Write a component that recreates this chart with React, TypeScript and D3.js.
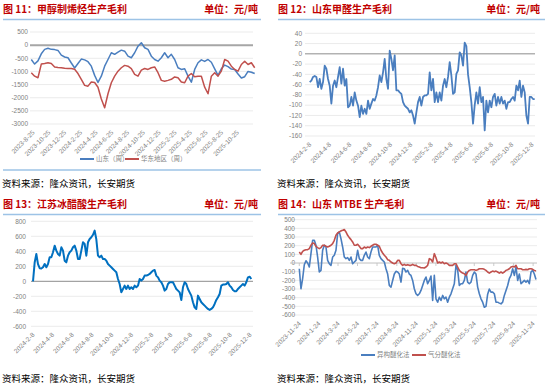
import React from 'react'
import * as d3 from 'd3'

// 图11 甲醇制烯烃生产毛利（周）
const mtoShandong = [-545, -720, -600, -330, -160, -120, -160, -170, -200, -380, -450, -480, -680, -870, -700, -530, -560, -630, -800, -1150, -1420, -1180, -800, -545, -290, -350, -265, -190, -230, -420, -480, -290, -40, 90, -100, -160, -420, -545, -610, -480, -290, -480, -350, -545, -860, -925, -900, -1180, -1410, -925, -670, -560, -620, -545, -650, -900, -1150, -900, -760, -820, -910, -925, -1100, -1250, -1200, -1000, -1030, -1080]
const mtoEastChina = [-1050, -1180, -1240, -720, -700, -670, -700, -830, -850, -860, -880, -890, -890, -920, -1080, -1300, -1530, -1560, -1400, -1420, -1600, -2050, -2380, -1850, -1430, -1180, -990, -860, -770, -800, -890, -1110, -1180, -950, -890, -925, -860, -830, -1050, -1340, -1370, -1340, -1300, -1210, -1240, -1400, -1430, -1180, -1080, -1200, -1180, -1180, -1600, -1850, -1180, -1050, -1180, -990, -545, -610, -800, -925, -990, -735, -610, -735, -670, -860]
const p1Ticks = ['2023-8-25', '2023-10-25', '2023-12-25', '2024-2-25', '2024-4-25', '2024-6-25', '2024-8-25', '2024-10-25', '2024-12-25', '2025-2-25', '2025-4-25', '2025-6-25', '2025-8-25', '2025-10-25']

// 图12 山东甲醛生产毛利
const formaldehyde = [-55, -52, -45, -43, -45, -65, -49, -68, -55, -23, -29, -49, -62, -97, -62, -52, -65, -45, -26, -58, -29, -62, -49, -104, -101, -84, -101, -75, -91, -101, -123, -101, -117, -107, -117, -91, -107, -97, -88, -91, -81, -65, -42, -55, -36, -10, -49, -68, 6, -10, -32, -3, -71, -71, -75, -78, -94, -101, -104, -107, -114, -110, -120, -136, -114, -94, -84, -101, -84, -81, -81, -78, -36, -71, -49, -94, -75, -94, -75, -91, -62, -49, -65, -45, -16, -42, -78, -75, -39, -32, 3, -3, -23, 22, 15, -40, -65, -94, -136, -100, -75, -97, -65, -94, -84, -149, -91, -114, -91, -104, -84, -78, -101, -84, -97, -84, -97, -91, -107, -94, -94, -88, -84, -91, -62, -71, -52, -84, -62, -75, -120, -136, -84, -84, -88, -88]
const p2Ticks = ['2024-2-8', '2024-4-8', '2024-6-8', '2024-8-8', '2024-10-8', '2024-12-8', '2025-2-8', '2025-4-8', '2025-6-8', '2025-8-8', '2025-10-8', '2025-12-8']

// 图13 江苏冰醋酸生产毛利
const aceticAcid = [0, 250, 364, 230, 175, 170, 187, 231, 187, 231, 320, 320, 387, 475, 409, 364, 342, 453, 409, 275, 253, 342, 387, 409, 453, 475, 409, 298, 298, 409, 520, 498, 342, 520, 564, 587, 620, 676, 560, 342, 320, 342, 298, 298, 275, 231, 209, 187, 164, 142, 120, 31, -36, -147, -102, -58, -102, -58, -102, -80, -102, -58, -80, -58, 31, 9, 31, 76, 76, 84, 98, 120, 142, 151, 76, 53, 9, -13, -58, -124, -102, -36, -13, -13, -13, -58, -102, -124, -147, -250, -80, -13, -36, -102, -147, -191, -280, -347, -369, -191, -236, -280, -302, -324, -347, -369, -382, -369, -347, -302, -249, -213, -169, -58, -44, -44, -36, -13, -58, -80, -116, -133, -133, -102, -80, -58, -36, -58, -13, 53, 62, 31]
const p3Ticks = p2Ticks

// 图14 山东MTBE生产毛利
const mtbeIso = [-66, -297, -180, -20, 25, 0, -46, 108, 262, 262, 205, 69, -104, -85, 147, 205, 185, 31, -8, -27, 69, 89, 147, 340, 359, 282, 185, 69, 50, 62, 31, 69, -8, 12, 31, 147, 50, 31, 31, 89, 127, 69, 50, 127, 185, 185, 185, 205, 89, 50, 31, 12, -66, -127, -259, -278, -201, -127, -96, -104, -127, -220, -60, -66, -104, -85, -127, -143, -201, -297, -355, -374, -355, -317, -259, -201, -162, -239, -201, -150, -432, -143, -413, -452, -394, -432, -374, -413, -394, -452, -394, -355, -297, -239, -27, -80, -259, -239, -239, -201, -104, -220, -239, -220, -143, -104, -127, -278, -355, -413, -452, -510, -500, -360, -300, -336, -336, -355, -452, -452, -463, -471, -452, -374, -317, -259, -181, -143, -66, -143, -46, -201, -127, -239, -220, -201, -220, -201, -239, -104, -85, -127, -190]
const mtbeGas = [127, 100, 135, 147, 154, 154, 166, 205, 232, 224, 193, 178, 166, 178, 205, 205, 193, 185, 193, 205, 224, 262, 320, 347, 359, 371, 378, 386, 359, 320, 293, 270, 243, 205, 205, 216, 193, 166, 166, 185, 174, 185, 178, 193, 205, 216, 216, 205, 193, 147, 116, 89, 69, 39, 31, 12, 0, -8, 0, 31, 31, -8, -27, -15, -27, -19, -27, -27, -15, -27, -27, -39, -46, -54, -54, -58, -46, -27, 50, 40, 12, 108, 60, 0, 12, 0, 12, -8, 0, -8, -27, -27, -27, -8, -8, -46, -85, -104, -116, -124, -143, -104, -85, -77, -77, -77, -85, -77, -66, -66, -66, -73, -85, -104, -116, -104, -93, -100, -93, -104, -116, -104, -116, -104, -85, -77, -66, -46, -39, -46, -27, -66, -66, -66, -77, -77, -73, -77, -66, -66, -73, -85, -93]
const p4Ticks = ['2023-11-24', '2024-1-24', '2024-3-24', '2024-5-24', '2024-7-24', '2024-9-24', '2024-11-24', '2025-1-24', '2025-3-24', '2025-5-24', '2025-7-24', '2025-9-24', '2025-11-24']

const source = '资料来源：隆众资讯，长安期货'
const cjk = '"Noto Sans CJK SC", sans-serif'
const latin = '"Liberation Sans", Arial, sans-serif'

const toDate = (s) => {
  const [y, m, d] = s.split('-').map(Number)
  return new Date(y, m - 1, d)
}

const Panel = ({ ox, top, title, xRange, gridX, yRange, yDomain, yStep, start, end, ticks, series, zero, yLabelX, legend, bottomLine, zeroTicks }) => {
  const x = d3.scaleTime().domain([toDate(start), toDate(end)]).range(xRange)
  const y = d3.scaleLinear().domain(yDomain).range(yRange)
  const yTicks = d3.range(yDomain[0], yDomain[1] + yStep / 2, yStep)
  const t0 = toDate(start).getTime()
  const t1 = toDate(end).getTime()
  const right = ox === 0 ? 261 : 545
  const unitX = ox === 0 ? 258 : 540

  const lines = series.map((s, i) => {
    const n = s.values.length
    const line = d3
      .line()
      .x((d, j) => x(new Date(t0 + ((t1 - t0) * j) / (n - 1))))
      .y((d) => y(d))
    return <path key={i} d={line(s.values)} fill="none" stroke={s.color} strokeWidth={s.width} strokeLinejoin="round" />
  })

  const bottom = yRange[0]

  return (
    <g>
      <text x={ox + 3} y={top + 13} fontFamily={cjk} fontWeight={700} fontSize={10} fill="#c00000">{title}</text>
      <text x={unitX} y={top + 13} fontFamily={cjk} fontWeight={700} fontSize={10} fill="#c00000" textAnchor="end">单位：元/吨</text>
      <line x1={ox + 3} x2={right} y1={top + 19.5} y2={top + 19.5} stroke="#9dc3e6" strokeWidth={1.5} />

      {yTicks.map((v) => (
        <g key={v}>
          {v !== 0 && <line x1={gridX[0]} x2={gridX[1]} y1={y(v)} y2={y(v)} stroke="#e6e6e6" strokeWidth={0.8} />}
          <text x={yLabelX} y={y(v)} dy="0.35em" textAnchor="end" fontFamily={latin} fontSize={6.5} fill="#7f7f7f">{v}</text>
        </g>
      ))}
      <line x1={gridX[0]} x2={gridX[1]} y1={y(0)} y2={y(0)} stroke={zero.color} strokeWidth={zero.width} />
      {zeroTicks && ticks.map((t) => (
        <line key={t} x1={x(toDate(t))} x2={x(toDate(t))} y1={y(0)} y2={y(0) + 3} stroke={zero.color} strokeWidth={0.8} />
      ))}

      {ticks.map((t) => (
        <text
          key={t}
          transform={`translate(${x(toDate(t)) + 2},${bottom + 9}) rotate(-45)`}
          textAnchor="end"
          fontFamily={latin}
          fontSize={6.5}
          fill="#7f7f7f"
        >
          {t}
        </text>
      ))}

      {lines}

      {legend && legend.items.map((it) => (
        <g key={it.name}>
          <line x1={it.x} x2={it.x + 14} y1={legend.y} y2={legend.y} stroke={it.color} strokeWidth={2} />
          <text x={it.x + 16} y={legend.y} dy="0.35em" fontFamily={cjk} fontSize={6.5} fill="#7f7f7f">{it.name}</text>
        </g>
      ))}

      {bottomLine && <line x1={ox + 3} x2={right} y1={top + 170} y2={top + 170} stroke="#9dc3e6" strokeWidth={1.5} />}
      <text x={ox + 2} y={top + 187} fontFamily={cjk} fontSize={9.5} fill="#000">{source}</text>
    </g>
  )
}

const App = () => {
  return (
    <svg width={550} height={390} style={{ position: 'absolute', left: 0, top: 0, background: '#fff' }}>
      <rect width={550} height={390} fill="#fff" />
      <Panel
        ox={0}
        top={0}
        title="图 11：甲醇制烯烃生产毛利"
        xRange={[31.3, 254.7]}
        gridX={[30, 253]}
        yRange={[124, 32]}
        yDomain={[-3000, 500]}
        yStep={500}
        start="2023-8-18"
        end="2025-12-31"
        ticks={p1Ticks}
        series={[
          { values: mtoShandong, color: '#4a7ebf', width: 1.5 },
          { values: mtoEastChina, color: '#c0504d', width: 1.5 }
        ]}
        zero={{ color: '#a6a6a6', width: 2 }}
        yLabelX={28}
        legend={{ y: 159, items: [{ x: 80, name: '山东（周）', color: '#4a7ebf' }, { x: 125, name: '华东地区（周）', color: '#c0504d' }] }}
        bottomLine
      />
      <Panel
        ox={275}
        top={0}
        title="图 12：山东甲醛生产毛利"
        xRange={[309.7, 534.7]}
        gridX={[305, 535]}
        yRange={[136, 33.3]}
        yDomain={[-160, 40]}
        yStep={20}
        start="2024-2-8"
        end="2025-12-16"
        ticks={p2Ticks}
        series={[{ values: formaldehyde, color: '#4a7ebf', width: 1.8 }]}
        zero={{ color: '#8c8c8c', width: 1 }}
        yLabelX={302}
      />
      <Panel
        ox={0}
        top={195}
        title="图 13：江苏冰醋酸生产毛利"
        xRange={[33, 251.3]}
        gridX={[31, 253]}
        yRange={[326.3, 221.3]}
        yDomain={[-600, 800]}
        yStep={200}
        start="2024-2-8"
        end="2025-12-12"
        ticks={p3Ticks}
        series={[{ values: aceticAcid, color: '#0070c0', width: 2 }]}
        zero={{ color: '#8c8c8c', width: 1 }}
        yLabelX={26}
      />
      <Panel
        ox={275}
        top={195}
        title="图 14：山东 MTBE 生产毛利"
        xRange={[299.3, 536]}
        gridX={[290, 537]}
        yRange={[315, 219.7]}
        yDomain={[-600, 500]}
        yStep={100}
        start="2023-11-24"
        end="2025-12-3"
        ticks={p4Ticks}
        series={[
          { values: mtbeIso, color: '#4a7ebf', width: 1.6 },
          { values: mtbeGas, color: '#c0504d', width: 1.6 }
        ]}
        zero={{ color: '#bfbfbf', width: 1 }}
        zeroTicks
        yLabelX={295}
        legend={{ y: 355, items: [{ x: 361, name: '异构醚化法', color: '#4a7ebf' }, { x: 412, name: '气分醚化法', color: '#c0504d' }] }}
      />
    </svg>
  )
}

export default App
